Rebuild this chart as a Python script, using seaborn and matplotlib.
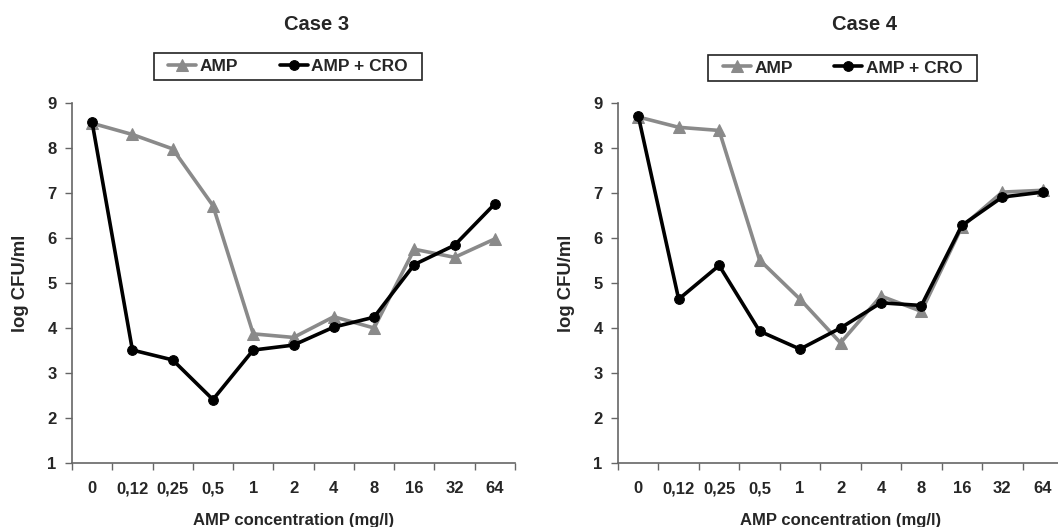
import matplotlib
matplotlib.use("Agg")
import matplotlib.pyplot as plt
import seaborn as sns
import numpy as np
from matplotlib.ticker import FixedLocator, NullFormatter, FixedFormatter
from matplotlib.patches import Rectangle

# ---- data ----
concentrations = ["0", "0,12", "0,25", "0,5", "1", "2", "4", "8", "16", "32", "64"]
case3_amp = [8.55, 8.30, 7.98, 6.72, 3.87, 3.79, 4.25, 4.00, 5.75, 5.57, 5.98]
case3_amp_cro = [8.57, 3.51, 3.29, 2.41, 3.51, 3.62, 4.02, 4.24, 5.41, 5.84, 6.76]
case4_amp = [8.69, 8.46, 8.39, 5.51, 4.64, 3.67, 4.71, 4.37, 6.25, 7.02, 7.06]
case4_amp_cro = [8.72, 4.64, 5.39, 3.93, 3.53, 4.00, 4.56, 4.50, 6.28, 6.91, 7.02]
titles = ["Case 3", "Case 4"]
series_names = ["AMP", "AMP + CRO"]
xlabel = "AMP concentration (mg/l)"
ylabel = "log CFU/ml"
yticks = [1, 2, 3, 4, 5, 6, 7, 8, 9]

sns.set_theme(style="white")
plt.rcParams["font.family"] = ["Liberation Sans", "DejaVu Sans"]
plt.rcParams["font.weight"] = "bold"

W, H = 1058, 527
fig = plt.figure(figsize=(W / 100, H / 100), dpi=100)

GREY = "#8a8a8a"
SPINE = "#666666"

panels = [
    dict(left=72, width=443, amp=case3_amp, cro=case3_amp_cro, title=titles[0],
         box=(154, 53, 422, 80)),
    dict(left=618, width=445, amp=case4_amp, cro=case4_amp_cro, title=titles[1],
         box=(708, 55, 977, 81)),
]
top_px, bot_px = 103, 463

pos = np.arange(len(concentrations))
for p in panels:
    ax = fig.add_axes([p["left"] / W, 1 - bot_px / H, p["width"] / W, (bot_px - top_px) / H])
    sns.lineplot(x=pos, y=p["amp"], ax=ax, color=GREY, linewidth=2.6, marker="^",
                 markersize=9, markeredgecolor=GREY, markerfacecolor=GREY, label=series_names[0])
    sns.lineplot(x=pos, y=p["cro"], ax=ax, color="black", linewidth=2.6, marker="o",
                 markersize=7, markeredgecolor="black", markerfacecolor="black", label=series_names[1])
    ax.set_xlim(-0.5, len(concentrations) - 0.5)
    ax.set_ylim(1, 9)
    ax.set_yticks(yticks)
    ax.set_yticklabels([str(v) for v in yticks], fontsize=12, fontweight="bold")
    ax.xaxis.set_major_locator(FixedLocator(np.arange(-0.5, len(concentrations), 1.0)))
    ax.xaxis.set_major_formatter(NullFormatter())
    ax.xaxis.set_minor_locator(FixedLocator(pos))
    ax.xaxis.set_minor_formatter(FixedFormatter(concentrations))
    ax.tick_params(axis="x", which="major", direction="out", length=5, width=1, color=SPINE, bottom=True)
    ax.tick_params(axis="x", which="minor", length=0, pad=13, labelsize=12, bottom=True)
    for lbl in ax.get_xticklabels(minor=True):
        lbl.set_fontweight("bold")
    ax.tick_params(axis="y", direction="out", length=5, width=1, color=SPINE, left=True, pad=6)
    for s in ["top", "right"]:
        ax.spines[s].set_visible(False)
    for s in ["left", "bottom"]:
        ax.spines[s].set_color(SPINE)
        ax.spines[s].set_linewidth(1.2)
    ax.set_xlabel(xlabel, fontsize=12, fontweight="bold", labelpad=12)
    ax.set_ylabel(ylabel, fontsize=13.3, fontweight="bold", labelpad=13)
    ax.set_title(p["title"], fontsize=14.5, fontweight="bold", x=0.553, y=1.18)
    ax.grid(False)
    bx0, by0, bx1, by1 = p["box"]
    cx = ((bx0 + bx1) / 2 - p["left"]) / p["width"]
    cy = (bot_px - (by0 + by1) / 2) / (bot_px - top_px)
    ax.legend(loc="center", bbox_to_anchor=(cx, cy), ncol=2, frameon=False,
              prop=dict(size=12.5, weight="bold"),
              handlelength=1.6, handletextpad=0.2, columnspacing=2.4,
              borderpad=0.0, borderaxespad=0)
    fig.patches.append(Rectangle((bx0 / W, 1 - by1 / H), (bx1 - bx0) / W, (by1 - by0) / H,
                                 transform=fig.transFigure, fill=False, edgecolor="#222222",
                                 linewidth=1.2))

fig.savefig("out.png", dpi=100, facecolor="white")
